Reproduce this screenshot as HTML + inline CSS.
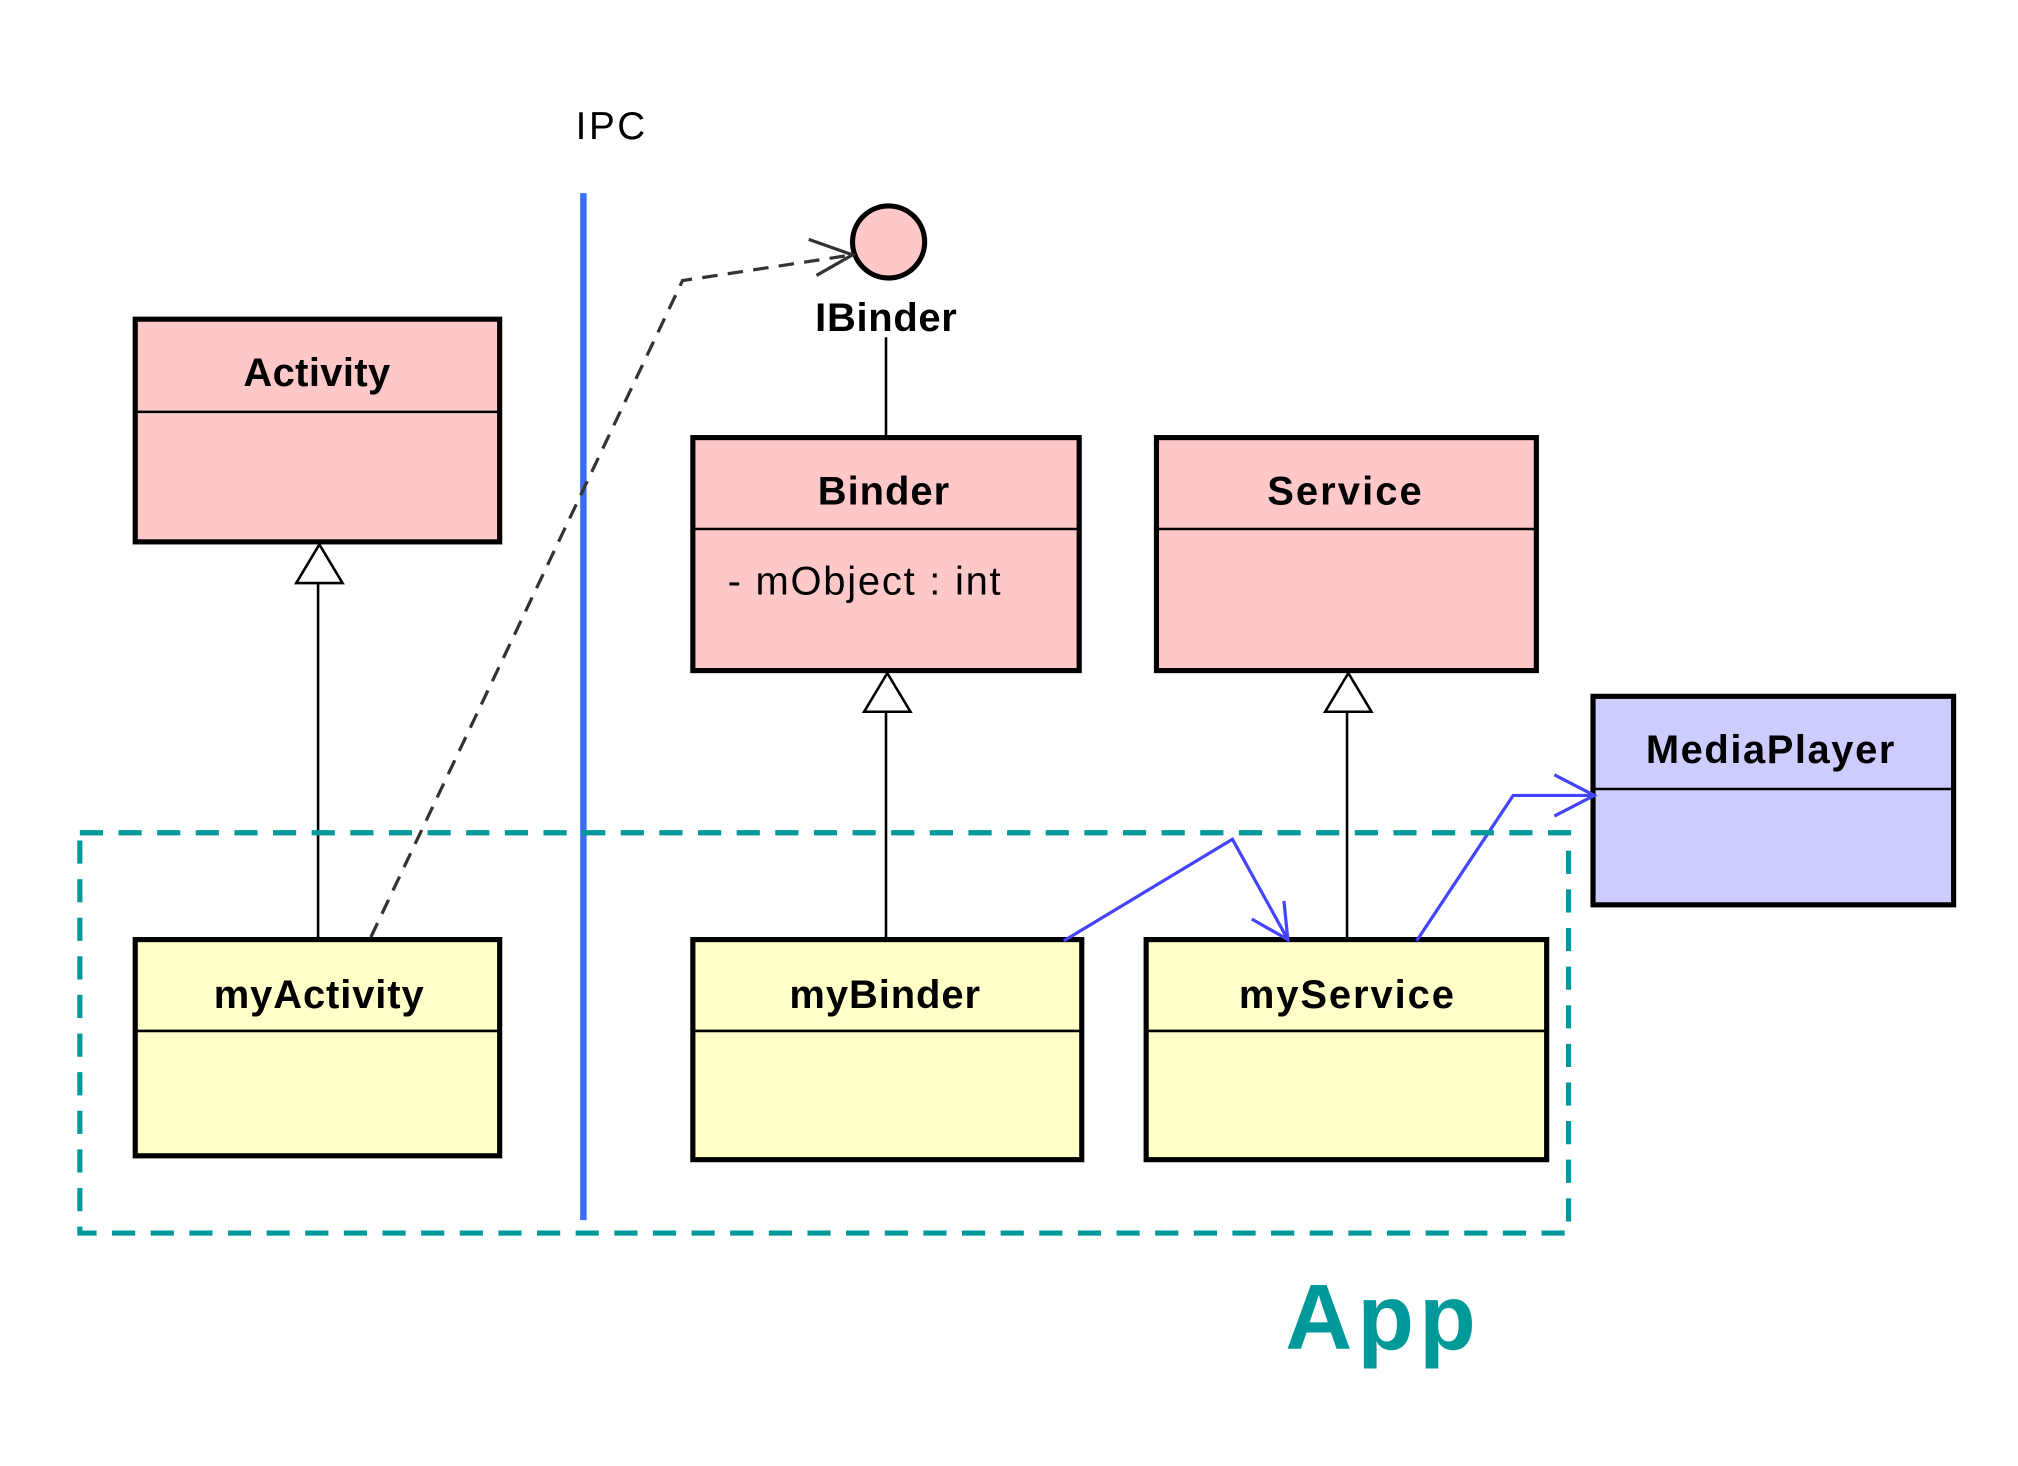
<!DOCTYPE html>
<html><head><style>html,body{margin:0;padding:0;background:#fff}svg{display:block}</style></head><body>
<svg width="2018" height="1466" viewBox="0 0 1567 1139" preserveAspectRatio="none" xmlns="http://www.w3.org/2000/svg" font-family="Liberation Sans, sans-serif">
<rect width="1567" height="1139" fill="#fff"/>
<text x="447" y="108" font-size="30" fill="#000" textLength="54">IPC</text>
<line x1="453" y1="150" x2="453" y2="948" stroke="#3a6cf5" stroke-width="5"/>
<circle cx="690" cy="188" r="28" fill="#ffc8c8" stroke="#000" stroke-width="4"/>
<text x="633" y="257" font-size="31" font-weight="bold" textLength="110">IBinder</text>
<line x1="688" y1="262" x2="688" y2="340" stroke="#000" stroke-width="2"/>
<polyline points="288,728 530,218 662,198" fill="none" stroke="#333" stroke-width="2.5" stroke-dasharray="12,8"/>
<polyline points="628,186 662,198 634,214" fill="none" stroke="#333" stroke-width="2.5"/>
<g stroke="#000" stroke-width="4">
<rect x="105" y="248" width="283" height="173" fill="#ffc8c8"/>
<line x1="105" y1="320" x2="388" y2="320" stroke-width="2"/>
<rect x="538" y="340" width="300" height="181" fill="#ffc8c8"/>
<line x1="538" y1="411" x2="838" y2="411" stroke-width="2"/>
<rect x="898" y="340" width="295" height="181" fill="#ffc8c8"/>
<line x1="898" y1="411" x2="1193" y2="411" stroke-width="2"/>
<rect x="1237" y="541" width="280" height="162" fill="#ccccff"/>
<line x1="1237" y1="613" x2="1517" y2="613" stroke-width="2"/>
<rect x="105" y="730" width="283" height="168" fill="#ffffc8"/>
<line x1="105" y1="801" x2="388" y2="801" stroke-width="2"/>
<rect x="538" y="730" width="302" height="171" fill="#ffffc8"/>
<line x1="538" y1="801" x2="840" y2="801" stroke-width="2"/>
<rect x="890" y="730" width="311" height="171" fill="#ffffc8"/>
<line x1="890" y1="801" x2="1201" y2="801" stroke-width="2"/>
</g>
<g font-size="31" font-weight="bold">
<text x="189" y="300" textLength="114">Activity</text>
<text x="635" y="392" textLength="102">Binder</text>
<text x="984" y="392" textLength="120">Service</text>
<text x="1278" y="593" textLength="193">MediaPlayer</text>
<text x="166" y="783" textLength="163">myActivity</text>
<text x="613" y="783" textLength="148">myBinder</text>
<text x="962" y="783" textLength="167">myService</text>
</g>
<text x="565" y="462" font-size="31" textLength="212">- mObject : int</text>
<g stroke="#000" stroke-width="2" fill="#fff">
<line x1="247" y1="453" x2="247" y2="730"/>
<polygon points="248,423 230,453 266,453"/>
<line x1="688" y1="553" x2="688" y2="730"/>
<polygon points="689,523 671,553 707,553"/>
<line x1="1046" y1="553" x2="1046" y2="730"/>
<polygon points="1047,523 1029,553 1065,553"/>
</g>
<g stroke="#4444ff" stroke-width="2.5" fill="none">
<polyline points="826,731 957,652 1000,730"/>
<polyline points="972,714 1000,730 997,700"/>
<polyline points="1100,731 1175,618 1238,618"/>
<polyline points="1207,602 1238,618 1207,634"/>
</g>
<rect x="62" y="647" width="1156" height="311" fill="none" stroke="#009999" stroke-width="4" stroke-dasharray="18,12"/>
<text x="998" y="1048" font-size="72" font-weight="bold" fill="#009999" textLength="148">App</text>
</svg>
</body></html>
